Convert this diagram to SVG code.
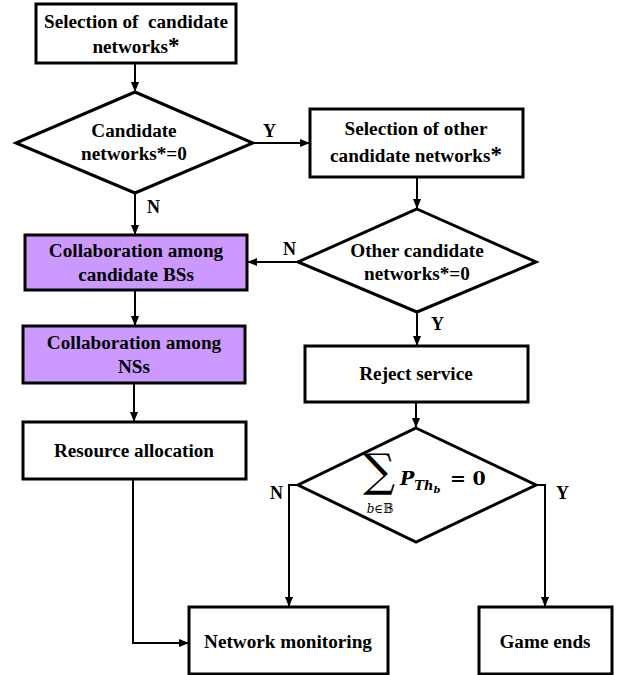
<svg xmlns="http://www.w3.org/2000/svg" width="619" height="675" viewBox="0 0 619 675">
<style>
.box{fill:#fff;stroke:#000;stroke-width:3}
.pur{fill:#CC99FF;stroke:#000;stroke-width:3}
.dia{fill:#fff;stroke:#000;stroke-width:3;stroke-linejoin:miter}
.t{font-family:'Liberation Serif','DejaVu Serif',serif;font-weight:bold;font-size:19.2px;text-anchor:middle;fill:#000}
.lb{font-family:'Liberation Serif','DejaVu Serif',serif;font-weight:bold;font-size:18px;fill:#000}
.c{fill:none;stroke:#000;stroke-width:2}
.m{font-family:'DejaVu Serif',serif;fill:#000}
</style>
<defs>
<marker id="ah" markerWidth="10" markerHeight="8" refX="9" refY="4" orient="auto" markerUnits="userSpaceOnUse">
<path d="M0,0 L10,4 L0,8 Z" fill="#000"/>
</marker>
</defs>
<rect width="619" height="675" fill="#fff"/>
<g id="connectors">
<line class="c" x1="135" y1="63" x2="135" y2="91" marker-end="url(#ah)"/>
<line class="c" x1="253" y1="143" x2="309" y2="143" marker-end="url(#ah)"/>
<line class="c" x1="135" y1="193" x2="135" y2="234" marker-end="url(#ah)"/>
<line class="c" x1="417" y1="177" x2="417" y2="208" marker-end="url(#ah)"/>
<line class="c" x1="298" y1="262" x2="248" y2="262" marker-end="url(#ah)"/>
<line class="c" x1="417" y1="312" x2="417" y2="345" marker-end="url(#ah)"/>
<line class="c" x1="135" y1="290" x2="135" y2="325" marker-end="url(#ah)"/>
<line class="c" x1="134" y1="383" x2="134" y2="421" marker-end="url(#ah)"/>
<line class="c" x1="416" y1="402" x2="416" y2="427" marker-end="url(#ah)"/>
<polyline class="c" points="298,485 289,485 289,606" marker-end="url(#ah)"/>
<polyline class="c" points="536,485 545,485 545,606" marker-end="url(#ah)"/>
<polyline class="c" points="133,479 133,643 188,643" marker-end="url(#ah)"/>
<text class="lb" x="263" y="137">Y</text>
<text class="lb" x="147" y="213">N</text>
<text class="lb" x="283" y="255">N</text>
<text class="lb" x="431" y="330">Y</text>
<text class="lb" x="270" y="499">N</text>
<text class="lb" x="556" y="499">Y</text>
</g>
<g id="sel-candidate">
<rect class="box" x="36" y="4" width="200" height="59"/>
<text class="t" x="136" y="28" xml:space="preserve">Selection of  candidate</text>
<text class="t" x="136" y="53">networks<tspan font-size="23">*</tspan></text>
</g>
<g id="dec-candidate">
<polygon class="dia" points="135,92 253,143 135,193 16,143"/>
<text class="t" x="134" y="137">Candidate</text>
<text class="t" x="134" y="160">networks*=0</text>
</g>
<g id="sel-other">
<rect class="box" x="310" y="109" width="213" height="68"/>
<text class="t" x="416" y="135">Selection of other</text>
<text class="t" x="416" y="162">candidate networks<tspan font-size="23">*</tspan></text>
</g>
<g id="dec-other">
<polygon class="dia" points="417,209 536,262 417,312 298,262"/>
<text class="t" x="417" y="257">Other candidate</text>
<text class="t" x="417" y="280">networks*=0</text>
</g>
<g id="collab-bs">
<rect class="pur" x="25" y="235" width="222" height="55"/>
<text class="t" x="136" y="257">Collaboration among</text>
<text class="t" x="136" y="281">candidate BSs</text>
</g>
<g id="collab-ns">
<rect class="pur" x="23" y="326" width="222" height="57"/>
<text class="t" x="134" y="349">Collaboration among</text>
<text class="t" x="134" y="373">NSs</text>
</g>
<g id="resource">
<rect class="box" x="23" y="422" width="223" height="57"/>
<text class="t" x="134" y="457">Resource allocation</text>
</g>
<g id="reject">
<rect class="box" x="305" y="346" width="223" height="56"/>
<text class="t" x="416" y="380">Reject service</text>
</g>
<g id="dec-sum">
<polygon class="dia" points="416,428 536,485 416,542 298,485"/>
<text class="m" x="379" y="486" font-size="45" text-anchor="middle">∑</text>
<text class="m" x="380" y="513" font-size="12" text-anchor="middle"><tspan font-style="italic">b</tspan>∈𝔹</text>
<text class="m" x="400" y="485" font-size="19" font-weight="bold" font-style="italic">P<tspan font-size="13" dy="5">Th</tspan><tspan font-size="10" dy="3">b</tspan></text>
<text class="m" x="450" y="485" font-size="19" font-weight="bold">= 0</text>
</g>
<g id="monitor">
<rect class="box" x="189" y="607" width="199" height="67"/>
<text class="t" x="288" y="648">Network monitoring</text>
</g>
<g id="game-ends">
<rect class="box" x="479" y="607" width="133" height="67"/>
<text class="t" x="545" y="648">Game ends</text>
</g>
</svg>
